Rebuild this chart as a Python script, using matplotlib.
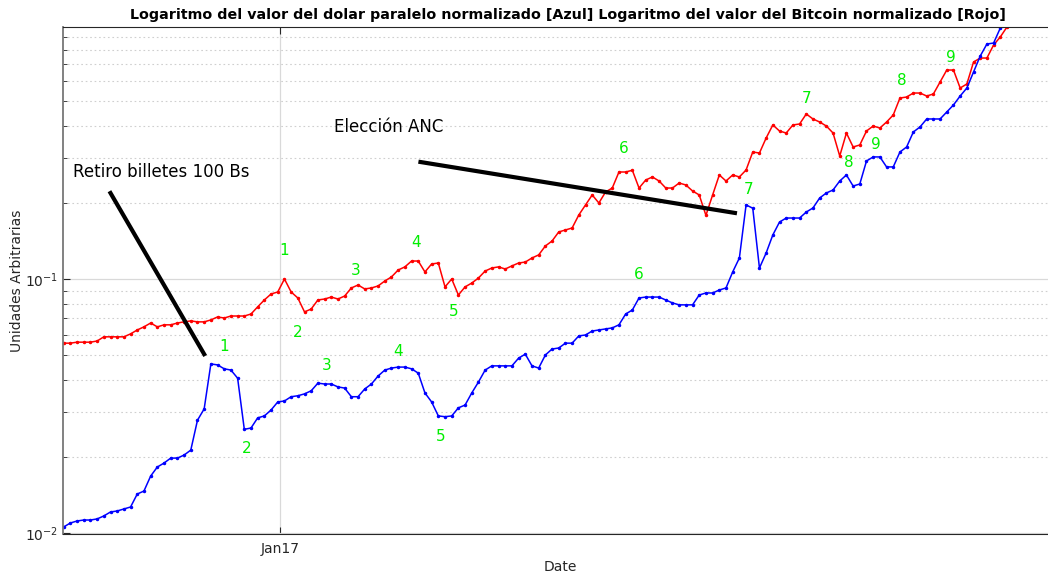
import matplotlib
matplotlib.use('Agg')
import matplotlib.pyplot as plt
import matplotlib.dates as mdates
from matplotlib.ticker import NullFormatter
import pandas as pd

# one value every 3 days, starting 2016-09-26
start_date = '2016-09-26'

dolar = [0.01056, 0.01095, 0.01115, 0.01125, 0.01125, 0.01136, 0.01167, 0.01210, 0.01221, 0.01243,
         0.01266, 0.01424, 0.01463, 0.01675, 0.01819, 0.01885, 0.01972, 0.01972, 0.02027, 0.0212,
         0.0278, 0.0308, 0.0463, 0.0459, 0.0443, 0.0438, 0.0407, 0.0256, 0.0259, 0.0284,
         0.0289, 0.0305, 0.0328, 0.0331, 0.0344, 0.0347, 0.0353, 0.0363, 0.0389, 0.0386,
         0.0386, 0.0376, 0.0372, 0.0344, 0.0344, 0.0369, 0.0386, 0.0415, 0.0438, 0.0446,
         0.0450, 0.0450, 0.0443, 0.0426, 0.0356, 0.0328, 0.0289, 0.0287, 0.0289, 0.0311,
         0.0319, 0.0356, 0.0393, 0.0438, 0.0455, 0.0455, 0.0455, 0.0455, 0.0488, 0.0506,
         0.0455, 0.0446, 0.0502, 0.0530, 0.0535, 0.0559, 0.0559, 0.0597, 0.0602, 0.0624,
         0.0630, 0.0636, 0.0642, 0.0660, 0.0728, 0.0755, 0.0842, 0.0849, 0.0849, 0.0849,
         0.0827, 0.0805, 0.0791, 0.0791, 0.0791, 0.0865, 0.0881, 0.0881, 0.0905, 0.0922,
         0.1066, 0.1210, 0.1957, 0.1900, 0.1105, 0.1266, 0.1491, 0.1676, 0.1738, 0.1738,
         0.1738, 0.1835, 0.1904, 0.2084, 0.2181, 0.2241, 0.2431, 0.2568, 0.2323, 0.2366,
         0.2915, 0.3024, 0.3024, 0.2762, 0.2762, 0.3162, 0.3310, 0.3791, 0.3968, 0.4266,
         0.4266, 0.4266, 0.4544, 0.4843, 0.5253, 0.5648, 0.6529, 0.7548, 0.8418, 0.8491,
         0.9728, 1.0956]

bitcoin = [0.0559, 0.0559, 0.0564, 0.0564, 0.0564, 0.0570, 0.0592, 0.0592, 0.0592, 0.0592,
           0.0608, 0.0630, 0.0648, 0.0671, 0.0648, 0.0660, 0.0660, 0.0671, 0.0678, 0.0684,
           0.0678, 0.0678, 0.0690, 0.0709, 0.0702, 0.0715, 0.0715, 0.0715, 0.0728, 0.0777,
           0.0827, 0.0873, 0.0889, 0.1000, 0.0889, 0.0842, 0.0742, 0.0762, 0.0827, 0.0834,
           0.0849, 0.0834, 0.0857, 0.0922, 0.0947, 0.0914, 0.0922, 0.0939, 0.0982, 0.1019,
           0.1085, 0.1116, 0.1177, 0.1177, 0.1066, 0.1146, 0.1156, 0.0931, 0.1000, 0.0865,
           0.0931, 0.0964, 0.1009, 0.1075, 0.1105, 0.1116, 0.1095, 0.1126, 0.1156, 0.1166,
           0.1210, 0.1244, 0.1349, 0.1411, 0.1532, 0.1560, 0.1588, 0.1787, 0.1957, 0.2142,
           0.1992, 0.2201, 0.2281, 0.2638, 0.2638, 0.2680, 0.2281, 0.2453, 0.2522, 0.2431,
           0.2281, 0.2281, 0.2387, 0.2345, 0.2221, 0.2142, 0.1780, 0.2142, 0.2568, 0.2431,
           0.2568, 0.2522, 0.2686, 0.3162, 0.3133, 0.3590, 0.4040, 0.3825, 0.3756, 0.4040,
           0.4077, 0.4463, 0.4266, 0.4150, 0.4002, 0.3756, 0.3049, 0.3756, 0.3310, 0.3370,
           0.3825, 0.4002, 0.3930, 0.4150, 0.4423, 0.5159, 0.5205, 0.5397, 0.5397, 0.5253,
           0.5351, 0.5964, 0.6649, 0.6649, 0.5648, 0.5858, 0.7149, 0.7412, 0.7412, 0.8343,
           0.8972, 0.9822]

dates = pd.date_range(start_date, periods=len(dolar), freq='3D')

# green wave labels
blue_lbl = ['1', '2', '3', '4', '5', '6', '7', '8', '9']
blue_lbl_dates = ['2016-12-07', '2016-12-17', '2017-01-22', '2017-02-23', '2017-03-14',
                  '2017-06-11', '2017-07-30', '2017-09-13', '2017-09-25']
blue_lbl_vals = [0.0540, 0.0216, 0.0455, 0.0520, 0.0239, 0.1037, 0.2241, 0.2888, 0.340]
red_lbl = ['1', '2', '3', '4', '5', '6', '7', '8', '9']
red_lbl_dates = ['2017-01-03', '2017-01-09', '2017-02-04', '2017-03-03', '2017-03-20',
                 '2017-06-04', '2017-08-25', '2017-10-07', '2017-10-29']
red_lbl_vals = [0.129, 0.0613, 0.1085, 0.1386, 0.0742, 0.3278, 0.5159, 0.6073, 0.748]

# events
ev_text = ['Retiro billetes 100 Bs', 'Elección ANC']
ev_text_pos = [('2016-09-30', 0.264), ('2017-01-25', 0.397)]
ev_line = [(('2016-10-17', 0.218), ('2016-11-28', 0.0506)),
           (('2017-03-05', 0.2888), ('2017-07-24', 0.182))]

fig = plt.figure(figsize=(10.48, 5.74), dpi=100)
ax = fig.add_axes([63 / 1048, 40 / 574, 1010 / 1048, 507 / 574])

ax.plot(dates, bitcoin, color='red', lw=1.1, marker='.', ms=3)
ax.plot(dates, dolar, color='blue', lw=1.1, marker='.', ms=3)

for t, d, v in zip(blue_lbl, blue_lbl_dates, blue_lbl_vals):
    ax.text(pd.Timestamp(d), v, t, color='#00ee00', fontsize=11, ha='center', va='center')
for t, d, v in zip(red_lbl, red_lbl_dates, red_lbl_vals):
    ax.text(pd.Timestamp(d), v, t, color='#00ee00', fontsize=11, ha='center', va='center')

for t, (d, v) in zip(ev_text, ev_text_pos):
    ax.text(pd.Timestamp(d), v, t, fontsize=12, ha='left', va='center', color='black')
for (d0, v0), (d1, v1) in ev_line:
    ax.plot([pd.Timestamp(d0), pd.Timestamp(d1)], [v0, v1], color='black', lw=3)

ax.set_yscale('log')
ax.set_ylim(0.00991, 0.982)
x0 = pd.Timestamp('2017-01-01') - pd.Timedelta(days=97.3)
x1 = pd.Timestamp('2017-01-01') + pd.Timedelta(days=355.6)
ax.set_xlim(x0, x1)

ax.xaxis.set_major_locator(mdates.MonthLocator(bymonth=1))
ax.xaxis.set_major_formatter(mdates.DateFormatter('%b%y'))
ax.yaxis.set_minor_formatter(NullFormatter())

ax.grid(True, which='major', color='#d9d9d9', lw=0.9, ls='-')
ax.grid(True, which='minor', axis='y', color='#cfcfcf', lw=0.8, ls=(0, (1.5, 2.5)))
ax.set_axisbelow(True)

ax.tick_params(which='both', direction='in', top=True, right=False, colors='#262626',
               labelsize=10)
ax.tick_params(which='major', length=5)
ax.tick_params(which='minor', length=3)
ax.tick_params(axis='x', pad=6)
for s in ['top', 'bottom']:
    ax.spines[s].set_color('#262626')
ax.spines['left'].set_color('#777777')
ax.spines['left'].set_linewidth(1.3)
ax.spines['right'].set_visible(False)

ax.set_title('Logaritmo del valor del dolar paralelo normalizado [Azul] '
             'Logaritmo del valor del Bitcoin normalizado [Rojo]',
             fontsize=10.3, fontweight='bold', pad=6)
ax.set_xlabel('Date', fontsize=10, color='#262626')
ax.xaxis.set_label_coords(0.492, -0.051)
ax.set_ylabel('Unidades Arbitrarias', fontsize=10, color='#262626')
ax.yaxis.set_label_coords(-0.0386, 0.5)

fig.savefig('out.png', dpi=100)
